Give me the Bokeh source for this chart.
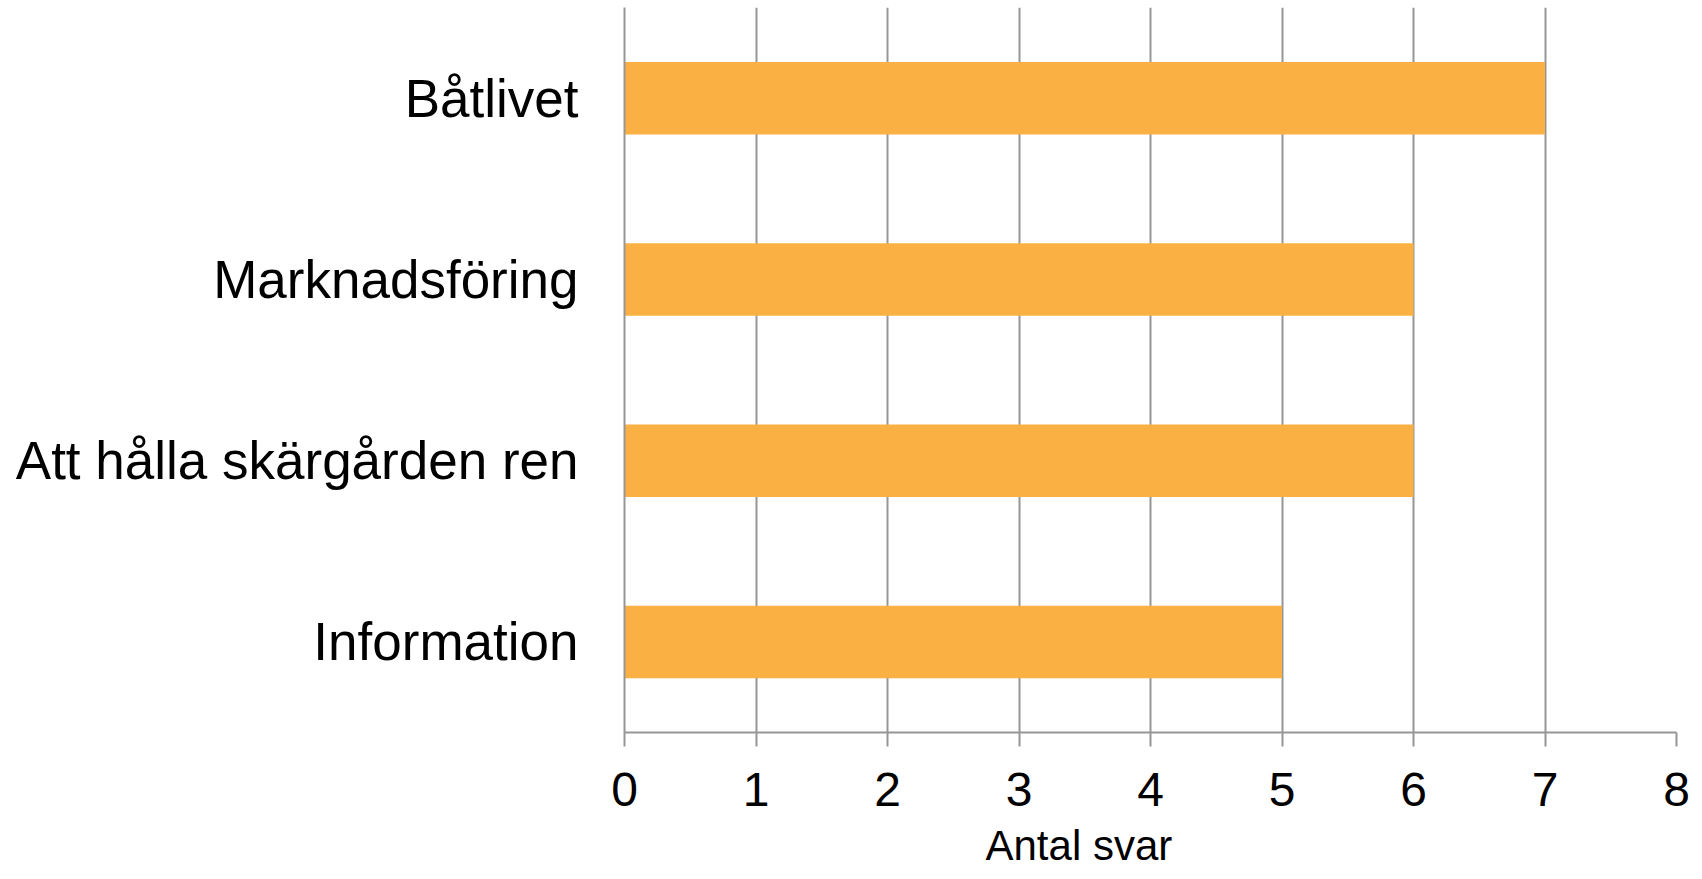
from bokeh.plotting import figure
from bokeh.models import Range1d, FactorRange, FixedTicker, ColumnDataSource, Title
from bokeh.embed import file_html
from bokeh.resources import INLINE

# Data (top to bottom as shown)
categories = ["Båtlivet", "Marknadsföring", "Att hålla skärgården ren", "Information"]
values = [7, 6, 6, 5]
x_ticks = [0, 1, 2, 3, 4, 5, 6, 7, 8]
x_title = "Antal svar"

BAR = "#FAB042"
GRID = "#969696"
FONT = "Liberation Sans"

factors = list(reversed(categories))
src = ColumnDataSource(dict(cat=categories, val=values))

p = figure(
    width=1702, height=879,
    y_range=FactorRange(factors=factors, range_padding=0),
    x_range=Range1d(0, 8),
    output_backend="svg", toolbar_location=None,
    min_border_left=624, min_border_right=26, min_border_top=7, min_border_bottom=145,
)
p.outline_line_color = None
p.background_fill_color = "white"
p.border_fill_color = "white"

p.hbar(y="cat", left=0, right="val", height=0.4, source=src,
       fill_color=BAR, line_color=None)

# grids
p.ygrid.grid_line_color = None
p.xgrid.grid_line_color = GRID
p.xgrid.grid_line_width = 2
p.xaxis.ticker = FixedTicker(ticks=x_ticks)

# x axis
xa = p.xaxis[0]
xa.axis_line_color = GRID
xa.axis_line_width = 2
xa.major_tick_line_color = GRID
xa.major_tick_line_width = 2
xa.major_tick_out = 14
xa.major_tick_in = 0
xa.minor_tick_line_color = None
xa.major_label_text_font = FONT
xa.major_label_text_font_size = "48px"
xa.major_label_text_color = "black"
xa.major_label_standoff = 26

# axis title (sits left of the frame centre, as in the reference)
t = Title(text=x_title, align="left", offset=361, text_font=FONT,
          text_font_size="42px", text_font_style="normal", text_color="black",
          standoff=22)
p.add_layout(t, "below")

# y axis
ya = p.yaxis[0]
ya.axis_line_color = GRID
ya.axis_line_width = 2
ya.major_tick_line_color = None
ya.major_tick_out = 0
ya.major_tick_in = 0
ya.minor_tick_line_color = None
ya.major_label_text_font = FONT
ya.major_label_text_font_size = "53px"
ya.major_label_text_color = "black"
ya.major_label_standoff = 46

open("out.html", "w").write(file_html(p, INLINE))
